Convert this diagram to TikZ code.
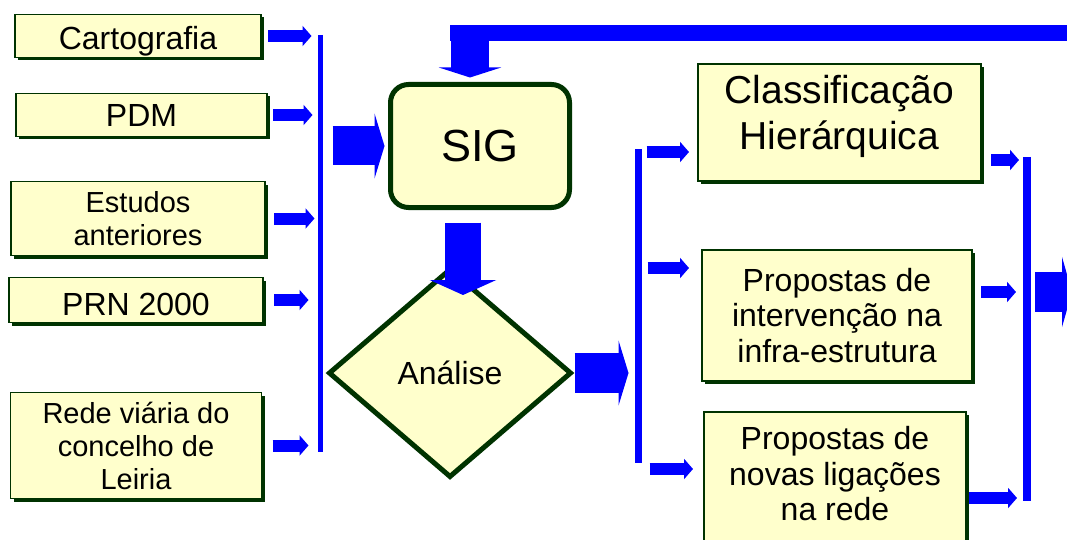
\documentclass[tikz,border=0pt]{standalone}
\usepackage{fontspec}
\setmainfont{Liberation Sans}
\usepackage{tikz}
\usetikzlibrary{shapes.geometric, arrows.meta, positioning, shadows}
\definecolor{boxfill}{HTML}{FFFFCC}
\definecolor{boxline}{HTML}{003300}
\definecolor{flow}{HTML}{0000FF}
\tikzstyle{arrow} = [draw=flow, line width=12pt, -{Triangle[length=9pt, width=20pt]}]
\tikzstyle{bigarrow} = [draw=flow, line width=39pt, -{Triangle[length=10pt, width=65pt]}]
\tikzstyle{rail} = [draw=flow, line width=6pt]

\begin{document}
\begin{tikzpicture}[x=1pt, y=-1pt,
      box/.style={rectangle, draw=boxline, fill=boxfill, line width=1.5pt, inner sep=0pt, outer sep=0pt, align=center, font=\fontsize{32}{36}\selectfont, drop shadow={shadow xshift=3pt, shadow yshift=-3pt, fill=boxline, opacity=1}},
      smallbox/.style={box, font=\fontsize{29}{33}\selectfont},
      bigbox/.style={box, font=\fontsize{32}{35.5}\selectfont},
      core/.style={rectangle, rounded corners=18pt, draw=boxline, fill=boxfill, line width=5pt, inner sep=0pt, outer sep=0pt, font=\fontsize{45}{50}\selectfont},
      decide/.style={diamond, draw=boxline, fill=boxfill, line width=5pt, inner sep=0pt, outer sep=0pt, font=\fontsize{32}{36}\selectfont},
    ]
    \useasboundingbox (0,0) rectangle (1067,540);
    \clip (0,0) rectangle (1067,540);

    % Inputs
    \node[box, minimum width=246pt, minimum height=43pt, text height=33pt] (carto) at (138,36) {Cartografia};
    \node[box, minimum width=251pt, minimum height=43pt, below=36pt of carto, xshift=3.5pt] (pdm) {PDM};
    \node[smallbox, minimum width=254pt, minimum height=74pt, below=45pt of pdm, xshift=-3.5pt] (estudos) {Estudos\\anteriores};
    \node[box, minimum width=254pt, minimum height=45pt, text height=32pt, below=22pt of estudos, xshift=-2pt] (prn) {PRN 2000};
    \node[smallbox, minimum width=251pt, minimum height=106pt, below=70pt of prn] (rede) {Rede viária do\\concelho de\\Leiria};

    % Core
    \node[core, minimum width=179pt, minimum height=123pt] (sig) at (480,146) {SIG};
    \node[decide, minimum width=241pt, minimum height=207pt] (analise) at (450,373) {Análise};

    % Outputs
    \node[box, font=\fontsize{39}{46}\selectfont, minimum width=283pt, minimum height=117pt, text depth=21pt] (classif) at (839.5,122.5) {Classificação\\Hierárquica};
    \node[bigbox, minimum width=270pt, minimum height=131pt, below=69pt of classif, xshift=-2.5pt] (interv) {Propostas de\\intervenção na\\infra-estrutura};
    \node[bigbox, minimum width=262pt, minimum height=140pt, text depth=17pt, below=31pt of interv, xshift=-2pt] (novas) {Propostas de\\novas ligações\\na rede};

    % Rails
    \coordinate (inbartop) at (320.5,35);
    \coordinate (inbarbot) at (320.5,452);
    \coordinate (fan1) at (638.5,152);
    \coordinate (fan2) at (638.5,268);
    \coordinate (fan3) at (638.5,469);
    \coordinate (fanbot) at (638.5,463);
    \coordinate (join1) at (1027,160);
    \coordinate (join2) at (1027,292);
    \coordinate (join3) at (1027,498);
    \coordinate (jointop) at (1027,157);
    \coordinate (joinbot) at (1027,501);
    \coordinate (exit) at (1072,292);
    \coordinate (back) at (1080,33);
    \coordinate (backturn) at (450,33);
    \coordinate (backdown) at (470,29);

    \draw[rail, line width=5pt] (inbartop) -- (inbarbot);
    \draw[rail, line width=7pt] ([yshift=2.5pt]fan1) -- (fanbot);
    \draw[rail, line width=8pt] (jointop) -- (joinbot);
    \draw[rail, line width=16pt] (back) -- (backturn);

    % Edges
    \draw[arrow, shorten <=7pt, shorten >=9pt] (carto) -- (carto -| inbartop);
    \draw[arrow, shorten <=6pt, shorten >=8pt] (pdm) -- (pdm -| inbartop);
    \draw[arrow, shorten <=9pt, shorten >=6pt] (estudos) -- (estudos -| inbartop);
    \draw[arrow, shorten <=11pt, shorten >=12pt] (prn) -- (prn -| inbartop);
    \draw[arrow, shorten <=11pt, shorten >=12pt] (rede) -- (rede -| inbartop);

    \draw[bigarrow, shorten <=12pt, shorten >=6pt] (sig.west -| inbartop) -- (sig.west);
    \draw[bigarrow, line width=38pt, -{Triangle[length=10pt, width=62pt]}, shorten >=7pt] (backdown) -- (backdown |- sig.north);
    \draw[bigarrow, line width=36pt, -{Triangle[length=15pt, width=66pt]}, shorten <=15pt, shorten >=78pt] ([xshift=-17pt]sig.south) -- ([xshift=13pt]analise.center);
    \draw[bigarrow, line width=40pt, shorten <=4pt, shorten >=10pt] (analise.east) -- (analise.east -| fan1);

    \draw[arrow, shorten <=8pt, shorten >=9pt] (fan1) -- (fan1 -| classif.west);
    \draw[arrow, shorten <=9pt, shorten >=13pt] (fan2) -- (fan2 -| interv.west);
    \draw[arrow, shorten <=11pt, shorten >=11pt] (fan3) -- (fan3 -| novas.west);

    \draw[arrow, shorten <=10pt, shorten >=8pt] (join1 -| classif.east) -- (join1);
    \draw[arrow, shorten <=9pt, shorten >=11pt] (join2 -| interv.east) -- (join2);
    \draw[arrow, shorten <=3pt, shorten >=10pt] (join3 -| novas.east) -- (join3);
    \draw[bigarrow, line width=40pt, -{Triangle[length=10pt, width=70pt]}, shorten <=8pt] (join2) -- (exit);

  \end{tikzpicture}
\end{document}
